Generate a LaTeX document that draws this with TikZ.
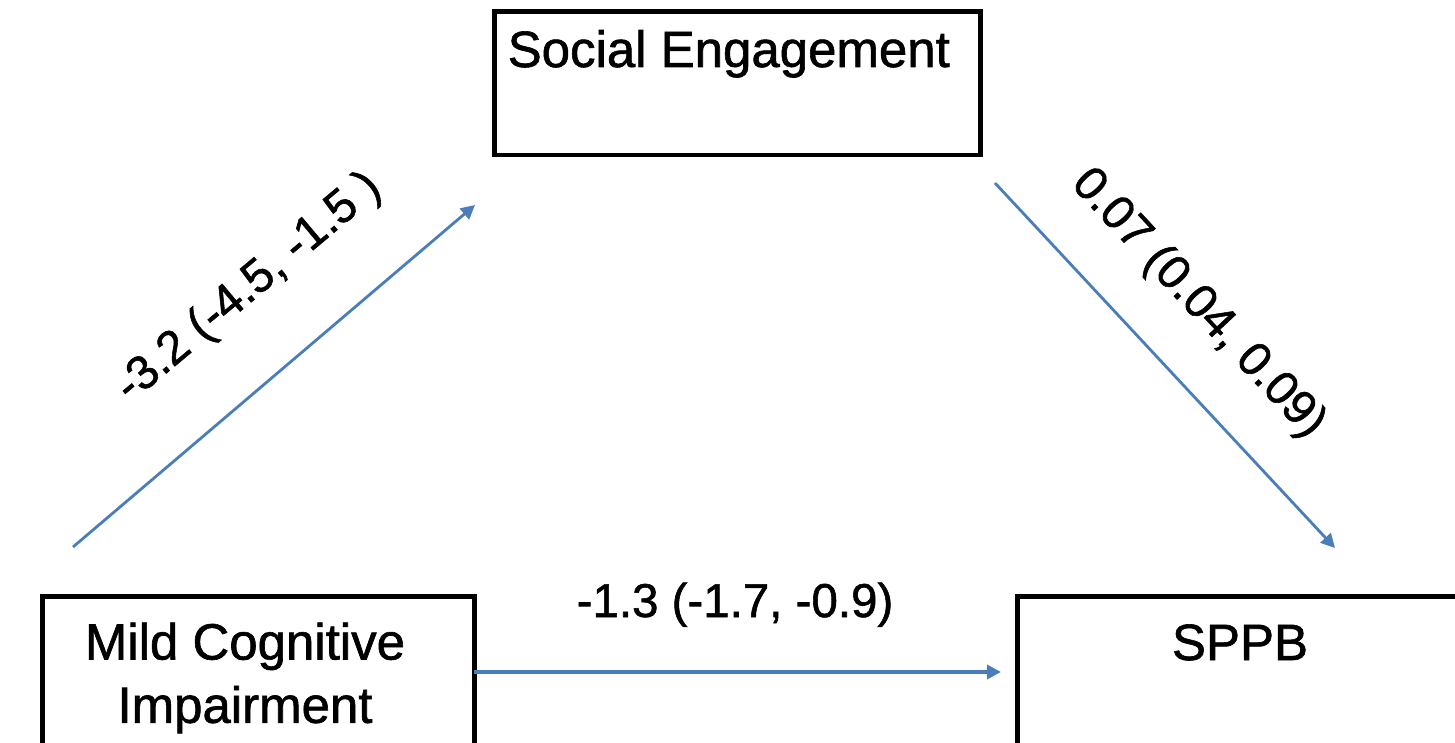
\documentclass[tikz,border=0pt]{standalone}
\usepackage{fontspec}
\setmainfont{Liberation Sans}[AutoFakeBold=1.2]
\usetikzlibrary{arrows.meta}
\definecolor{azul}{RGB}{74,126,187}

\begin{document}
\begin{tikzpicture}[x=0.01cm, y=-0.01cm,
  caja/.style={draw, line width=1.4pt, inner sep=0pt},
  texto/.style={font=\fontsize{14.5}{18}\selectfont\bfseries, align=center, inner sep=0pt},
  etiq/.style={font=\fontsize{13.5}{16}\selectfont\bfseries, inner sep=0pt},
  flecha/.style={draw=azul, line width=0.8pt, -{Triangle[length=1.4mm, width=1.4mm]}}]
  \useasboundingbox (0,0) rectangle (1455,743);
  % Cajas
  \node[caja, minimum width=4.85cm, minimum height=1.43cm] (se) at (737.5,83.5) {};
  \node[caja, minimum width=4.31cm, minimum height=2cm] (mci) at (258.5,697) {};
  \node[caja, minimum width=5cm, minimum height=2cm] (sppb) at (1268,697) {};
  % Textos
  \node[texto, anchor=base west] (seT) at (507,67) {Social Engagement};
  \node[texto] (mciT) at (245,678) {Mild Cognitive\\Impairment};
  \node[texto, anchor=base] (sppbT) at (1240,660) {SPPB};
  % Extremos de las flechas
  \coordinate (mciSal) at (73,547);
  \coordinate (seEnt) at (475,205);
  \coordinate (seSal) at (995,183);
  \coordinate (sppbEnt) at (1335,548);
  \coordinate (mciDer) at (474,672);
  \coordinate (sppbIzq) at (1001,672);
  % Flechas
  \draw[flecha] (mciSal) -- (seEnt);
  \draw[flecha] (seSal) -- (sppbEnt);
  \draw[flecha, line width=1.3pt] (mciDer) -- (sppbIzq);
  % Etiquetas
  \node[etiq, rotate=40] (eA) at (249,288) {-3.2 (-4.5, -1.5 )};
  \node[etiq, rotate=-47] (eB) at (1198,304) {0.07 (0.04, 0.09)};
  \node[etiq, anchor=base] (eC) at (735,617) {-1.3 (-1.7, -0.9)};
\end{tikzpicture}
\end{document}
